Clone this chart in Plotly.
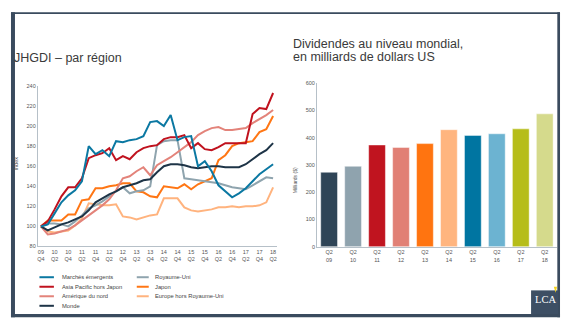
import plotly.graph_objects as go

W, H = 569, 330


def px(x):
    return x / W


def py(y):
    return 1 - y / H


# ---- JHGDI by region, quarterly index (2009 Q4 = 100) ----
quarters = [
    "2009Q4", "2010Q1", "2010Q2", "2010Q3", "2010Q4", "2011Q1", "2011Q2",
    "2011Q3", "2011Q4", "2012Q1", "2012Q2", "2012Q3", "2012Q4", "2013Q1",
    "2013Q2", "2013Q3", "2013Q4", "2014Q1", "2014Q2", "2014Q3", "2014Q4",
    "2015Q1", "2015Q2", "2015Q3", "2015Q4", "2016Q1", "2016Q2", "2016Q3",
    "2016Q4", "2017Q1", "2017Q2", "2017Q3", "2017Q4", "2018Q1", "2018Q2",
]
tick_years = ["09", "10", "10", "11", "11", "12", "12", "13", "13",
              "14", "14", "15", "15", "16", "16", "17", "17", "18"]
tick_quarters = ["Q4", "Q2", "Q4", "Q2", "Q4", "Q2", "Q4", "Q2", "Q4",
                 "Q2", "Q4", "Q2", "Q4", "Q2", "Q4", "Q2", "Q4", "Q2"]

emerging = [100, 102, 113, 124, 131, 136, 145, 180, 172, 176, 170, 185, 184, 186, 187, 190, 204, 205,
            200, 211, 186, 189, 190, 160, 165, 155, 141, 135, 129, 133, 138, 145, 152, 157, 162]
asia_pac = [100, 105, 117, 130, 139, 139, 148, 168, 171, 173, 178, 166, 170, 167, 174, 178, 180, 181,
            187, 189, 189, 191, 178, 183, 177, 176, 179, 183, 183, 183, 183, 212, 218, 217, 233]
north_am = [100, 92, 93, 95, 97, 101, 106, 111, 116, 121, 127, 136, 148, 150, 155, 159, 151, 161,
            165, 169, 174, 179, 184, 191, 195, 198, 199, 196, 196, 197, 198, 203, 207, 211, 216]
world = [100, 96, 99, 102, 104, 107, 110, 116, 124, 128, 132, 135, 139, 141, 143, 146, 147, 154,
         160, 162, 162, 161, 159, 158, 159, 160, 160, 159, 159, 159, 162, 167, 172, 176, 183]
uk = [100, 103, 103, 102, 100, 105, 111, 118, 121, 125, 130, 135, 139, 133, 135, 136, 140, 181,
      185, 186, 186, 148, 147, 146, 145, 144, 143, 141, 139, 138, 137, 141, 145, 149, 148]
japan = [100, 106, 106, 106, 112, 112, 126, 127, 138, 138, 140, 141, 143, 143, 135, 134, 130, 129,
         140, 139, 138, 142, 137, 142, 145, 148, 166, 171, 180, 183, 184, 185, 194, 197, 210]
europe_ex_uk = [100, 95, 94, 95, 96, 101, 108, 123, 122, 121, 121, 122, 110, 109, 107, 109, 111, 112,
                128, 128, 128, 119, 116, 115, 116, 117, 119, 119, 120, 119, 120, 120, 121, 124, 139]

series_names = ["Marchés émergents", "Asia Pacific hors Japon", "Amérique du nord", "Monde",
                "Royaume-Uni", "Japon", "Europe hors Royaume-Uni"]
series_values = [emerging, asia_pac, north_am, world, uk, japan, europe_ex_uk]
series_colors = ["#0b78a2", "#c0121e", "#e3837a", "#1e3447", "#8fa4ae", "#ff7614", "#ffb37e"]
draw_order = [6, 5, 4, 2, 3, 1, 0]

# ---- Global dividends, Q2 of each year, USD bn ----
bar_years = ["09", "10", "11", "12", "13", "14", "15", "16", "17", "18"]
dividends = [273, 295, 373, 364, 378, 429, 408, 414, 432, 487]
bar_colors = ["#2f4557", "#8fa3ae", "#c0141f", "#e18075", "#ff7410", "#ffb57f",
              "#0075a1", "#6cb3d1", "#b6bd19", "#d5da8c"]

FONT = "Liberation Sans, Arial, sans-serif"
AXIS_COLOR = "#b6c0c8"
TICK_COLOR = "#555555"
FRAME = "#3a4b5e"

fig = go.Figure()

for k in draw_order:
    fig.add_trace(go.Scatter(
        x=quarters, y=series_values[k], mode="lines", name=series_names[k],
        line=dict(color=series_colors[k], width=2),
        xaxis="x", yaxis="y", showlegend=False,
    ))

bar_x = ["Q2 " + y for y in bar_years]
fig.add_trace(go.Bar(
    x=bar_x, y=dividends, marker=dict(color=bar_colors, line=dict(color="rgba(255,255,255,0.45)", width=1)),
    xaxis="x2", yaxis="y2", showlegend=False, width=0.7,
))

common_axis = dict(showline=True, linecolor=AXIS_COLOR, linewidth=1.2, showgrid=False,
                   zeroline=False, ticks="", tickfont=dict(family=FONT, size=5.5, color=TICK_COLOR))

fig.update_layout(
    width=W, height=H, autosize=False,
    margin=dict(l=0, r=0, t=0, b=0),
    paper_bgcolor="white", plot_bgcolor="white",
    font=dict(family=FONT),
    xaxis=dict(domain=[px(37), px(276)], type="category", range=[-0.44, 34.5],
               tickvals=quarters[0::2],
               ticktext=[f"{a}<br>{b}" for a, b in zip(tick_years, tick_quarters)],
               tickangle=0, anchor="y", **common_axis),
    yaxis=dict(domain=[py(248), py(84.5)], range=[80, 240], dtick=20, anchor="x",
               **common_axis),
    xaxis2=dict(domain=[px(316.7), px(556.7)], type="category", range=[-0.5, 9.5],
                tickvals=bar_x, ticktext=[f"Q2<br>{y}" for y in bar_years],
                tickangle=0, anchor="y2", **common_axis),
    yaxis2=dict(domain=[py(248.3), py(81.5)], range=[0, 600], dtick=100, anchor="x2",
                **common_axis),
)

shapes = []
annotations = []


def rect(x0, y0, x1, y1, color):
    shapes.append(dict(type="rect", xref="paper", yref="paper", x0=px(x0), x1=px(x1),
                       y0=py(y1), y1=py(y0), fillcolor=color, line=dict(width=0), layer="above"))


def text(x, y, s, size, color="#3a3a3a", xanchor="left", angle=0, family=FONT):
    annotations.append(dict(xref="paper", yref="paper", x=px(x), y=py(y), text=s,
                            showarrow=False, xanchor=xanchor, yanchor="middle",
                            textangle=angle, font=dict(family=family, size=size, color=color)))


# Frame around the slide
rect(10, 9.3, 560, 11.3, FRAME)
rect(10, 9.3, 14, 320, FRAME)
rect(557.3, 9.3, 560, 320, FRAME)
rect(10, 316.7, 560, 320, FRAME)

# Logo block
rect(531, 292.7, 558, 317, "#3d4f64")
shapes.append(dict(type="path", xref="paper", yref="paper",
                   path=f"M {px(553.8)},{py(289)} L {px(557)},{py(289)} L {px(555.6)},{py(295)} Z",
                   fillcolor="#f4d21c", line=dict(width=0), layer="above"))
text(545, 302, "LCA", 10.5, color="white", xanchor="center", family="Liberation Serif, serif")

# Titles
text(11.5, 56, "JHGDI – par région", 12.5)
text(291, 41.7, "Dividendes au niveau mondial,", 12.5)
text(291, 55, "en milliards de dollars US", 12.5)

# Axis titles
text(15, 163.5, "Index", 5.5, color=TICK_COLOR, xanchor="center", angle=-90)
text(294, 180, "Milliards ($)", 5, color=TICK_COLOR, xanchor="center", angle=-90)

# Legend: two columns of line samples with labels
legend_rows = [279.3, 289, 298.7, 308.4]
legend_cols = [(38.5, 53, 59.5), (136, 148, 152)]
for idx, name in enumerate(series_names):
    col, row = (0, idx) if idx < 4 else (1, idx - 4)
    x0, x1, tx = legend_cols[col]
    y = legend_rows[row]
    shapes.append(dict(type="line", xref="paper", yref="paper", x0=px(x0), x1=px(x1),
                       y0=py(y), y1=py(y), line=dict(color=series_colors[idx], width=2)))
    text(tx, y, name, 5.8, color="#444444")

fig.update_layout(shapes=shapes, annotations=annotations)

fig.write_html("out.html")
